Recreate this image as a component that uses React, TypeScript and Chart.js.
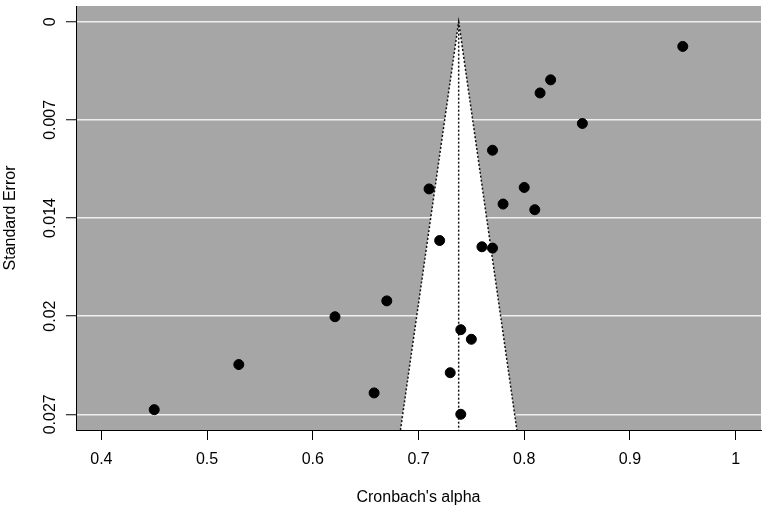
import React, { useEffect, useRef } from 'react';
import { Chart, registerables } from 'chart.js';

Chart.register(...registerables);

// Study estimates (Cronbach's alpha) and their standard errors
const alphaValues = [0.95, 0.825, 0.815, 0.855, 0.77, 0.71, 0.8, 0.78, 0.81, 0.72, 0.76, 0.77, 0.67, 0.621, 0.74, 0.75, 0.53, 0.73, 0.658, 0.45, 0.74];
const seValues = [0.0017, 0.004, 0.0049, 0.007, 0.00884, 0.0115, 0.0114, 0.01254, 0.01293, 0.01505, 0.01548, 0.01557, 0.0192, 0.02029, 0.02118, 0.02184, 0.02358, 0.02414, 0.02553, 0.02668, 0.027];

const pooledAlpha = 0.738;
const critZ = 1.96;

const xTickValues = [0.4, 0.5, 0.6, 0.7, 0.8, 0.9, 1.0];
const xTickLabels = ['0.4', '0.5', '0.6', '0.7', '0.8', '0.9', '1'];
const yTickValues = [0, 0.00675, 0.0135, 0.02025, 0.027];
const yTickLabels = ['0', '0.007', '0.014', '0.02', '0.027'];

const xMin = 0.376;
const xMax = 1.024;
const yMin = -0.00108;
const yMax = 0.02808;

const FONT = 'Liberation Sans, Arial, Helvetica, sans-serif';

const bgPlugin = {
  id: 'grayBg',
  beforeDraw(chart: any) {
    const { ctx, chartArea } = chart;
    if (!chartArea) return;
    ctx.save();
    ctx.fillStyle = '#a6a6a6';
    ctx.fillRect(chartArea.left, chartArea.top, chartArea.right - chartArea.left, chartArea.bottom - chartArea.top);
    ctx.restore();
  },
};

export default function App() {
  const ref = useRef<HTMLCanvasElement | null>(null);

  useEffect(() => {
    if (!ref.current) return;
    const points = alphaValues.map((a, i) => ({ x: a, y: seValues[i] }));
    const funnel = [
      { x: pooledAlpha - critZ * yMax, y: yMax },
      { x: pooledAlpha, y: 0 },
      { x: pooledAlpha + critZ * yMax, y: yMax },
    ];
    const centerLine = [
      { x: pooledAlpha, y: 0 },
      { x: pooledAlpha, y: yMax },
    ];

    const chart = new Chart(ref.current, {
      type: 'scatter',
      data: {
        datasets: [
          {
            data: points,
            backgroundColor: '#000',
            borderColor: '#000',
            borderWidth: 1,
            pointRadius: 5,
            showLine: false,
            order: 0,
          },
          {
            data: centerLine,
            showLine: true,
            borderColor: '#111',
            borderWidth: 1.5,
            borderDash: [2, 2],
            pointRadius: 0,
            fill: false,
            order: 1,
          },
          {
            data: funnel,
            showLine: true,
            borderColor: '#111',
            borderWidth: 1.5,
            borderDash: [2, 2],
            backgroundColor: '#ffffff',
            fill: 'shape',
            pointRadius: 0,
            tension: 0,
            order: 2,
          },
        ] as any,
      },
      options: {
        animation: false,
        responsive: false,
        devicePixelRatio: 1,
        layout: { padding: { top: 3, right: 4, left: 0, bottom: 0 } },
        plugins: {
          legend: { display: false },
          tooltip: { enabled: false },
        },
        scales: {
          x: {
            type: 'linear',
            min: xMin,
            max: xMax,
            afterBuildTicks: (s: any) => {
              s.ticks = xTickValues.map((v) => ({ value: v }));
            },
            afterFit: (s: any) => {
              s.height = 79;
            },
            ticks: {
              callback: (_v: any, i: number) => xTickLabels[i],
              font: { family: FONT, size: 16 },
              color: '#000',
              padding: 10,
              autoSkip: false,
              maxRotation: 0,
            },
            grid: {
              drawOnChartArea: false,
              drawTicks: true,
              tickLength: 10,
              tickColor: '#000',
              tickWidth: 1,
            },
            border: { display: true, color: '#000', width: 1 },
            title: {
              display: true,
              text: "Cronbach's alpha",
              font: { family: FONT, size: 16 },
              color: '#000',
              padding: { top: 0, bottom: 2 },
            },
          },
          y: {
            type: 'linear',
            reverse: true,
            min: yMin,
            max: yMax,
            afterBuildTicks: (s: any) => {
              s.ticks = yTickValues.map((v) => ({ value: v }));
            },
            afterFit: (s: any) => {
              s.width = 76;
            },
            ticks: {
              callback: (_v: any, i: number) => yTickLabels[i],
              font: { family: FONT, size: 16 },
              color: '#000',
              minRotation: 90,
              maxRotation: 90,
              crossAlign: 'center',
              padding: -5,
              autoSkip: false,
            },
            grid: {
              drawOnChartArea: true,
              color: '#efefef',
              lineWidth: 1.5,
              drawTicks: true,
              tickLength: 10,
              tickColor: '#000',
              tickWidth: 1,
            },
            border: { display: true, color: '#000', width: 1 },
            title: {
              display: true,
              text: 'Standard Error',
              font: { family: FONT, size: 16 },
              color: '#000',
              padding: { top: 1, bottom: 0 },
            },
          },
        },
      } as any,
      plugins: [bgPlugin],
    });
    return () => chart.destroy();
  }, []);

  return (
    <div style={{ position: 'absolute', left: 0, top: 0, width: 767, height: 509, background: '#fff' }}>
      <canvas ref={ref} width={767} height={509} style={{ width: 767, height: 509, display: 'block' }} />
    </div>
  );
}
